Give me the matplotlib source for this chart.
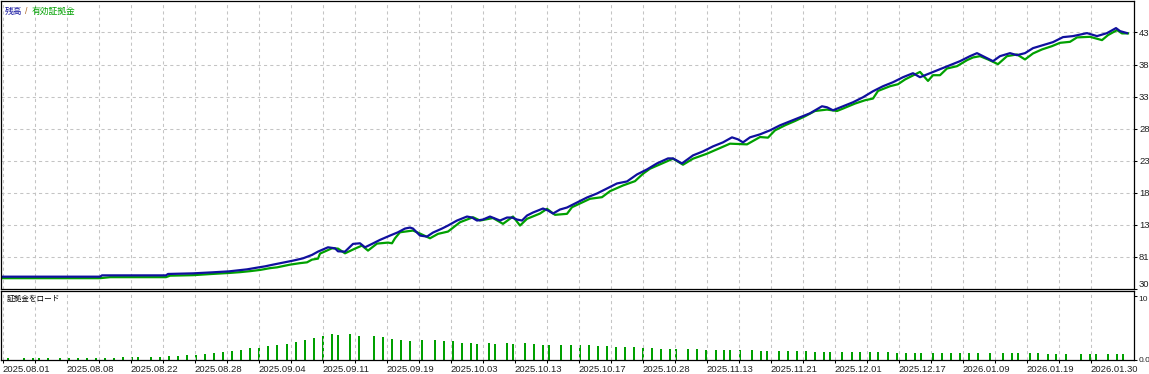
import matplotlib
matplotlib.use("Agg")
import matplotlib.pyplot as plt

plt.rcParams['font.family'] = ['Liberation Sans', 'Noto Sans CJK JP', 'DejaVu Sans']

# balance curve (x = position along the deal axis)
balance_x = [0, 100, 102, 166, 168, 193, 212, 229, 238, 247, 257, 265, 273, 283, 293, 303,
             312, 318, 328, 335, 338, 345, 353, 360, 365, 372, 380, 390, 398, 405, 410, 413,
             420, 427, 433, 442, 448, 457, 467, 472, 477, 483, 490, 495, 500, 507, 512, 517,
             522, 527, 533, 543, 548, 553, 560, 567, 577, 587, 597, 607, 617, 627, 637, 647,
             657, 668, 673, 682, 693, 703, 713, 723, 732, 738, 743, 750, 760, 770, 780, 790,
             800, 810, 822, 827, 833, 843, 853, 863, 873, 883, 893, 903, 913, 920, 930, 940,
             950, 960, 970, 977, 983, 993, 1000, 1010, 1017, 1025, 1033, 1043, 1053, 1063,
             1073, 1087, 1097, 1107, 1116, 1120, 1127]
balance = [4960, 4960, 5168, 5168, 5391, 5487, 5646, 5805, 5965, 6124, 6395, 6602, 6873,
           7192, 7511, 7877, 8420, 8946, 9631, 9472, 8993, 8946, 10173, 10269, 9631, 10173,
           10811, 11496, 12022, 12612, 12771, 12612, 11496, 11337, 11974, 12612, 13090, 13887,
           14524, 14365, 13887, 14046, 14524, 14206, 13887, 14365, 14365, 14046, 13887, 14684,
           15162, 15800, 15481, 15003, 15640, 15959, 16756, 17553, 18190, 18987, 19784, 20103,
           21219, 22016, 22972, 23769, 23769, 22972, 24247, 24885, 25682, 26320, 27117, 26798,
           26320, 27117, 27595, 28232, 29029, 29667, 30304, 30942, 32058, 31898, 31420, 32058,
           32695, 33492, 34449, 35246, 35883, 36680, 37318, 36680, 37318, 37956, 38593, 39231,
           40028, 40506, 40028, 39231, 40028, 40506, 40187, 40506, 41303, 41781, 42259, 43056,
           43216, 43694, 43216, 43694, 44491, 44013, 43694]

# equity curve
equity_x = [0, 100, 110, 166, 170, 193, 212, 229, 240, 250, 260, 270, 277, 290, 300, 307,
            312, 318, 320, 332, 338, 345, 355, 362, 368, 377, 388, 392, 395, 400, 413, 420,
            430, 438, 448, 460, 473, 480, 493, 503, 513, 520, 527, 540, 547, 555, 567, 572,
            590, 602, 610, 623, 635, 643, 650, 673, 683, 693, 707, 730, 747, 760, 768, 775,
            785, 795, 805, 815, 827, 837, 843, 855, 865, 873, 878, 890, 898, 905, 920, 928,
            933, 940, 947, 957, 967, 973, 980, 988, 998, 1007, 1017, 1025, 1033, 1042, 1052,
            1060, 1070, 1077, 1090, 1102, 1108, 1117, 1122, 1128]
equity = [4721, 4721, 4881, 4881, 5120, 5200, 5391, 5550, 5678, 5837, 6029, 6315, 6443, 6873,
          7112, 7240, 7670, 7830, 8627, 9472, 9424, 8675, 9424, 9902, 9105, 10221, 10380, 10269,
          11066, 12022, 12293, 11815, 11066, 11767, 12133, 13616, 14413, 13887, 14285, 13361,
          14524, 13090, 14158, 15003, 15753, 14795, 14954, 16007, 17346, 17601, 18557, 19465,
          20151, 21331, 22128, 23722, 22766, 23722, 24519, 26111, 26001, 27165, 27069, 28233,
          29030, 29715, 30465, 31309, 31533, 31309, 31692, 32489, 33015, 33286, 34497, 35247,
          35565, 36315, 37526, 36091, 37000, 37000, 38068, 38435, 39391, 39821, 40029, 39503,
          38753, 40029, 40300, 39503, 40459, 41097, 41623, 42149, 42308, 43009, 43105, 42579,
          43376, 44173, 43647, 43647]

# margin load, %
load_x = [7, 23, 32, 38, 47, 59, 68, 77, 86, 95, 104, 113, 122, 131, 137, 150, 159, 168, 177,
          186, 195, 204, 213, 222, 231, 240, 249, 258, 267, 276, 286, 295, 304, 313, 322, 331,
          337, 349, 358, 373, 382, 391, 400, 409, 421, 434, 443, 452, 461, 470, 476, 488, 494,
          506, 512, 524, 533, 542, 548, 560, 570, 579, 588, 597, 606, 615, 624, 633, 642, 651,
          660, 669, 675, 687, 696, 705, 715, 723, 729, 739, 751, 760, 766, 778, 787, 796, 805,
          814, 823, 829, 841, 851, 859, 869, 877, 887, 896, 905, 914, 920, 932, 941, 950, 959,
          968, 977, 989, 1002, 1011, 1017, 1029, 1037, 1047, 1055, 1065, 1080, 1089, 1095,
          1107, 1116, 1122]
load = [3, 3, 3, 3, 3, 3, 3, 3, 3, 3, 3, 3, 4.5, 4.5, 4.5, 4.5, 4.5, 6, 6, 7.5, 7.5, 9, 10.5,
        12, 13.5, 15, 18, 18, 21, 24, 25.5, 28.5, 31.5, 34.5, 37.5, 40.5, 39, 40.5, 37.5, 37.5,
        36, 33, 31.5, 30, 31.5, 31.5, 30, 30, 27, 27, 25.5, 27, 25.5, 27, 25.5, 27, 25.5, 24,
        24, 24, 24, 22.5, 22.5, 21, 21, 19.5, 19.5, 19.5, 18, 18, 16.5, 16.5, 16.5, 16.5, 16.5,
        15, 15, 15, 15, 15, 15, 13.5, 13.5, 13.5, 13.5, 13.5, 13.5, 12, 12, 12, 12, 12, 12, 12,
        12, 12, 10.5, 10.5, 10.5, 10.5, 10.5, 10.5, 10.5, 10.5, 10.5, 10.5, 10.5, 10.5, 10.5,
        10.5, 10.5, 10.5, 9, 9, 9, 9, 9, 9, 9, 9, 9]

date_labels = ["2025.08.01", "2025.08.08", "2025.08.22", "2025.08.28", "2025.09.04",
               "2025.09.11", "2025.09.19", "2025.10.03", "2025.10.13", "2025.10.17",
               "2025.10.28", "2025.11.13", "2025.11.21", "2025.12.01", "2025.12.17",
               "2026.01.09", "2026.01.19", "2026.01.30"]
# right-hand scale, only the part that fits inside the window
y_ticks = [3000, 8100, 13200, 18300, 23400, 28500, 33600, 38700, 43800]
y_labels = ["30", "81", "13", "18", "23", "28", "33", "38", "43"]
load_ticks = [0, 100]
load_labels = ["0.0", "10"]

blue = "#10109E"
green = "#00A000"
grid_kw = dict(color="#C4C4C4", linestyle=(0, (3, 3)), linewidth=0.75)

W, H = 1149, 374
fig = plt.figure(figsize=(W / 100, H / 100), dpi=100)
ax = fig.add_axes([1 / W, 85 / H, 1133 / W, 288 / H])
ax2 = fig.add_axes([1 / W, 14 / H, 1133 / W, 69 / H])

major = [2.7 + 64 * i for i in range(len(date_labels))]
minor = [2.7 + 32 + 64 * i for i in range(len(date_labels) - 1)]

# main panel
ax.plot(equity_x, equity, color=green, lw=1.6)
ax.plot(balance_x, balance, color=blue, lw=1.6)
ax.set_xlim(1, 1134)
ax.set_ylim(3000, 48800)
ax.set_xticks(major)
ax.set_xticks(minor, minor=True)
ax.tick_params(axis="x", which="both", length=0, labelbottom=False)
ax.yaxis.tick_right()
ax.set_yticks(y_ticks, y_labels)
ax.tick_params(axis="y", length=2.2, width=0.75, pad=1.4, labelsize=6.8, labelcolor="#202020")
ax.get_yticklabels()[0].set_va("bottom")
ax.grid(True, which="both", **grid_kw)
for s in ax.spines.values():
    s.set_linewidth(0.9)

fig.text(5 / W, 1 - 11 / H, "残高", color=blue, fontsize=6.3, va="center",
         family=["Noto Sans CJK JP"])
fig.text(25 / W, 1 - 11 / H, "/", color="#B06828", fontsize=6.3, va="center")
fig.text(32 / W, 1 - 11 / H, "有効証拠金", color=green, fontsize=6.3, va="center",
         family=["Noto Sans CJK JP"])

# margin load panel
ax2.bar(load_x, load, width=2, align="edge", color=green)
ax2.set_xlim(1, 1134)
ax2.set_ylim(0, 107)
ax2.set_xticks(major, date_labels, ha="left")
ax2.set_xticks(minor, minor=True)
ax2.tick_params(axis="x", which="both", length=2.2, width=0.75, pad=1.5, labelsize=6.8,
                labelcolor="#202020")
ax2.yaxis.tick_right()
ax2.set_yticks(load_ticks, load_labels)
ax2.tick_params(axis="y", length=2.2, width=0.75, pad=0.8, labelsize=6.0, labelcolor="#202020")
ax2.get_yticklabels()[1].set_va("top")
ax2.grid(True, axis="x", which="both", **grid_kw)
for s in ax2.spines.values():
    s.set_linewidth(0.9)
ax2.text(6 / 1133, 1 - 8 / 69, "証拠金をロード", transform=ax2.transAxes, fontsize=5.5,
         va="center", family=["Noto Sans CJK JP"])

fig.savefig("out.png", dpi=100)
